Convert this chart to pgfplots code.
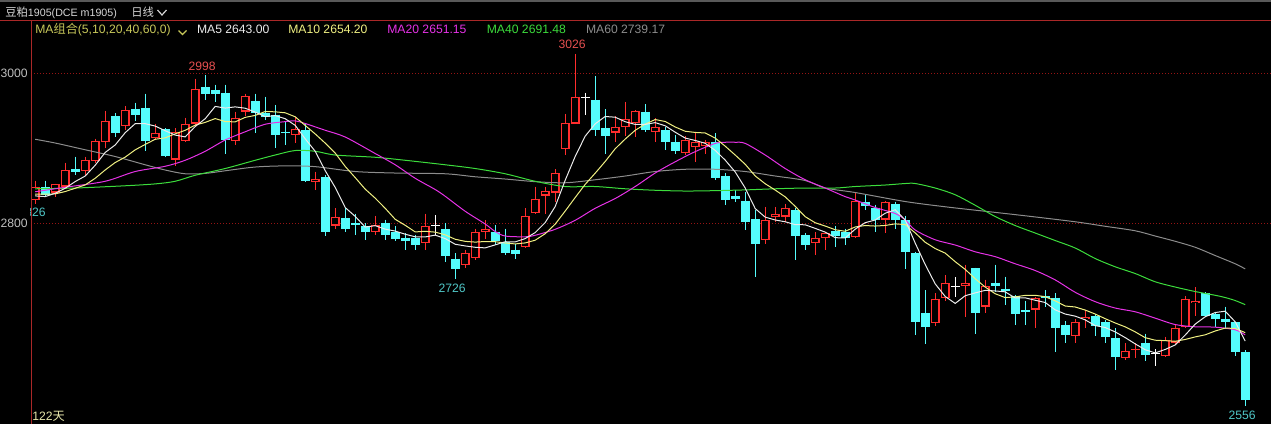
\documentclass[border=0pt]{standalone}
\usepackage{pgfplots}
\pgfplotsset{compat=1.18}
\usepackage{pgfplotstable}
\usepackage{fontspec}
\setmainfont{Liberation Sans}
\newfontfamily\cjk{Noto Sans CJK SC}
\newcommand\fs{\fontsize{7.3pt}{8pt}\selectfont}

\definecolor{candlered}{RGB}{255,45,45}
\definecolor{dncyan}{RGB}{84,252,252}
\definecolor{axisred}{RGB}{170,40,40}
\definecolor{gridred}{RGB}{150,20,20}
\definecolor{headgray}{RGB}{215,215,215}
\definecolor{ticgray}{RGB}{190,190,190}
\definecolor{macombo}{RGB}{200,200,90}
\definecolor{mafive}{RGB}{235,235,235}
\definecolor{maten}{RGB}{240,240,130}
\definecolor{matwenty}{RGB}{230,50,230}
\definecolor{maforty}{RGB}{60,220,60}
\definecolor{masixty}{RGB}{140,140,140}
\definecolor{lblred}{RGB}{230,80,80}
\definecolor{lblcyan}{RGB}{80,200,200}
\definecolor{daysyel}{RGB}{230,230,170}

% one error bar per row, drawn in colour #1 with width #2
\pgfplotsset{
  bodybar/.style n args={2}{color=#1, only marks, mark=*, mark size=0pt,
    mark options={draw=none, fill=none}, forget plot,
    error bars/.cd, y dir=minus, y explicit, error mark=none,
    error bar style={draw=#1, line width=#2, solid}},
}

% candles: index, open, high, low, close
\pgfplotstableread{
i o h l c
1 2831 2857 2826 2848
3 2841 2853 2835 2852
4 2849 2881 2847 2871
6 2870 2889 2865 2885
7 2883 2913 2880 2910
8 2908 2950 2901 2937
10 2930 2956 2925 2951
13 2914 2933 2911 2921
15 2885 2927 2877 2922
16 2910 2941 2909 2933
17 2933 2993 2929 2979
21 2910 2949 2905 2941
22 2949 2973 2943 2970
27 2918 2942 2907 2926
29 2855 2869 2845 2859
31 2797 2820 2793 2808
35 2788 2810 2785 2798
40 2774 2813 2765 2797
44 2744 2765 2740 2760
45 2754 2793 2751 2788
46 2788 2804 2779 2793
50 2768 2820 2767 2810
51 2814 2849 2813 2833
52 2837 2849 2813 2843
53 2841 2872 2829 2867
54 2899 2946 2891 2934
55 2933 3026 2933 2969
59 2921 2943 2908 2929
60 2928 2962 2916 2939
61 2934 2951 2915 2950
63 2922 2940 2909 2928
66 2894 2916 2891 2911
67 2902 2921 2882 2909
68 2903 2911 2893 2909
74 2778 2822 2773 2804
75 2808 2822 2802 2812
76 2809 2826 2802 2820
79 2774 2788 2758 2780
80 2780 2789 2764 2787
83 2782 2840 2780 2830
86 2805 2830 2787 2828
91 2667 2707 2663 2699
92 2700 2731 2697 2720
94 2716 2745 2675 2720
96 2689 2725 2680 2716
101 2685 2702 2660 2700
105 2650 2672 2640 2668
106 2672 2684 2660 2675
110 2620 2640 2618 2630
111 2631 2640 2620 2633
114 2623 2649 2622 2645
115 2641 2666 2639 2660
116 2662 2703 2660 2699
117 2694 2715 2677 2697
}\upc

\pgfplotstableread{
i o h l c
2 2848 2857 2835 2838
5 2873 2889 2865 2869
9 2943 2947 2915 2921
11 2953 2961 2936 2945
12 2954 2973 2897 2910
14 2926 2927 2889 2890
18 2982 2998 2965 2973
19 2978 2985 2962 2972
20 2974 2985 2893 2911
23 2963 2973 2920 2947
24 2947 2969 2938 2942
25 2945 2958 2900 2918
26 2922 2936 2905 2920
28 2924 2933 2855 2857
30 2862 2865 2783 2789
32 2807 2820 2789 2792
33 2801 2813 2785 2798
34 2796 2800 2778 2788
36 2800 2805 2778 2785
37 2788 2796 2776 2779
38 2781 2787 2764 2777
39 2781 2785 2765 2771
42 2792 2800 2749 2756
43 2753 2760 2726 2739
47 2789 2798 2771 2776
48 2775 2793 2758 2760
49 2765 2772 2753 2759
57 2965 2996 2916 2925
58 2927 2952 2893 2916
62 2949 2959 2922 2925
64 2925 2928 2898 2908
65 2909 2918 2893 2896
69 2909 2920 2858 2861
70 2863 2867 2824 2831
71 2836 2844 2829 2832
72 2830 2842 2791 2802
73 2806 2818 2729 2772
77 2818 2820 2751 2783
78 2784 2787 2764 2771
81 2790 2796 2769 2783
82 2789 2793 2771 2781
84 2829 2839 2818 2823
85 2821 2825 2789 2805
87 2826 2829 2792 2804
88 2804 2810 2739 2762
89 2760 2762 2651 2669
90 2680 2711 2639 2662
95 2740 2741 2653 2681
97 2721 2745 2709 2716
98 2713 2729 2691 2710
99 2703 2705 2665 2679
100 2684 2697 2665 2682
102 2703 2711 2689 2701
103 2701 2707 2629 2661
104 2665 2670 2640 2651
107 2677 2679 2650 2663
108 2669 2671 2640 2648
109 2647 2660 2604 2622
112 2640 2653 2616 2624
118 2707 2708 2675 2676
119 2679 2682 2662 2673
120 2673 2689 2659 2669
121 2668 2669 2623 2628
122 2628 2631 2556 2565
}\dnc

\pgfplotstableread{
i o h l c
41 2797 2811 2785 2797
56 2968 2974 2944 2968
93 2716 2728 2702 2716
113 2627 2632 2610 2627
}\doji

\begin{document}
\begin{tikzpicture}
\begin{scope}[x=0.6pt, y=-0.6pt, shift={(0pt,254.4pt)}]
  \fill[black] (0,0) rectangle (1271,424);
  \fill[black!65] (0,0) rectangle (1271,1.6);
\end{scope}

\begin{axis}[
  at={(18.6pt,0pt)}, anchor=south west,
  scale only axis, width=744pt, height=241.8pt,
  xmin=0.58, xmax=124.58, ymin=2532.4, ymax=3069.7,
  axis line style={draw=none},
  xtick=\empty, ytick={2800,3000}, yticklabels={},
  major tick length=0pt,
  ymajorgrids, grid style={gridred, line width=0.6pt, dash pattern=on 0.6pt off 1.2pt},
]
% wicks
\addplot[bodybar={candlered}{0.7pt}] table[x=i, y=h, y error minus expr=\thisrow{h}-\thisrow{l}] {\upc};
\addplot[bodybar={dncyan}{0.6pt}] table[x=i, y=h, y error minus expr=\thisrow{h}-\thisrow{l}] {\dnc};
\addplot[bodybar={white}{0.6pt}] table[x=i, y=h, y error minus expr=\thisrow{h}-\thisrow{l}] {\doji};
% bodies (up candles hollow)
\addplot[bodybar={candlered}{5.2pt}] table[x=i, y=c, y error minus expr=\thisrow{c}-\thisrow{o}] {\upc};
\addplot[bodybar={black}{3.8pt}] table[x=i, y expr=\thisrow{c}-1.4, y error minus expr={max(\thisrow{c}-\thisrow{o}-2.8,0)}] {\upc};
\addplot[bodybar={dncyan}{5.2pt}] table[x=i, y=o, y error minus expr=\thisrow{o}-\thisrow{c}] {\dnc};
\addplot[bodybar={white}{5.2pt}] table[x=i, y expr=\thisrow{o}+0.667, y error minus expr=1.333] {\doji};

% MA60
\addplot[masixty, line width=0.6pt, smooth] coordinates {
(1,2912) (3,2907) (6,2898) (9,2889) (12,2878) (14,2871) (16,2866) (18,2866.5) (20,2870) (23,2875)
(26,2876.5) (29,2875.5) (33,2869) (37,2867) (42,2866) (45,2862) (48,2859) (51,2855.5) (54,2854)
(57,2858) (60,2863) (63,2869) (66,2872) (69,2872) (72,2869) (75,2863) (78,2857) (80,2847) (83,2841)
(88,2829) (92,2822) (96,2816) (100,2810) (105,2802) (108,2796) (111,2790) (113,2783) (115,2776)
(117,2768) (119,2757) (121,2746) (122,2739.2)};
% MA40
\addplot[maforty, line width=0.6pt, smooth] coordinates {
(1,2846) (5,2847) (10,2850) (13,2852.5) (15,2856) (17,2864) (20,2873) (23,2884) (25,2891) (27,2897)
(29,2896) (31,2891) (35,2888) (38,2884) (42,2878) (45,2873) (48,2866) (51,2856) (54,2849) (57,2849)
(60,2846) (63,2844) (66,2843) (69,2843.5) (72,2844.5) (75,2846) (78,2847) (81,2847) (83,2849) (86,2851)
(88,2853) (89,2853) (91,2847) (93,2838) (95,2824) (97,2809) (99,2797) (101,2787) (103,2777) (105,2767)
(107,2753) (109,2742) (111,2733) (113,2722) (115,2715) (117,2709) (119,2704) (120,2701) (121,2697)
(122,2691.5)};
% MA20
\addplot[matwenty, line width=0.6pt, smooth] coordinates {
(1,2842) (4,2848) (8,2856) (11,2869) (14,2876) (16,2884) (18,2896) (20,2911) (22,2922) (24,2932)
(26,2935.5) (27,2936.5) (28,2933) (30,2924) (32,2915) (35,2893) (37,2878) (39,2860) (41,2845) (42,2836)
(44,2816) (46,2799) (47,2789) (48,2783) (50,2782) (51,2784) (53,2792) (55,2804) (57,2820) (59,2833)
(61,2849) (63,2867) (65,2882) (67,2895.5) (69,2906.5) (70,2908) (71,2908) (72,2906.5) (74,2891) (76,2873)
(78,2858) (80,2847) (82,2835.5) (83,2831) (85,2821) (87,2813) (88,2804.5) (89,2791) (91,2778) (93,2771)
(95,2762) (97,2755.5) (99,2746) (101,2737) (103,2724.5) (105,2708) (107,2695.5) (109,2687) (111,2682)
(113,2673.5) (115,2665) (117,2662) (119,2661.5) (121,2658) (122,2651.2)};
% MA10
\addplot[maten, line width=0.6pt] coordinates {
(1,2839) (2,2838.7) (3,2839.2) (4,2842.3) (5,2846.7) (6,2851.1) (7,2860) (8,2871.1) (9,2881)
(10,2888.2) (11,2897.9) (12,2905.1) (13,2912.0) (14,2913.9) (15,2919.2) (16,2924.0) (17,2930.9)
(18,2934.5) (19,2939.6) (20,2935.6) (21,2935.2) (22,2941.2) (23,2943.8) (24,2949.0) (25,2948.6)
(26,2947.3) (27,2942.0) (28,2930.4) (29,2919.1) (30,2906.9) (31,2893.6) (32,2875.8) (33,2860.9)
(34,2845.5) (35,2833.5) (36,2820.0) (37,2805.3) (38,2797.3) (39,2788.5) (40,2789.3) (41,2788.2)
(42,2784.6) (43,2778.7) (44,2775.9) (45,2774.9) (46,2775.7) (47,2775.4) (48,2773.7) (49,2772.5)
(50,2773.8) (51,2777.4) (52,2786.1) (53,2798.9) (54,2816.3) (55,2834.4) (56,2851.9) (57,2866.8)
(58,2882.4) (59,2899.4) (60,2912.3) (61,2924.0) (62,2932.2) (63,2938.3) (64,2935.7) (65,2928.4)
(66,2922.7) (67,2921.1) (68,2920.4) (69,2913.6) (70,2902.8) (71,2891.0) (72,2878.7) (73,2863.1)
(74,2852.7) (75,2844.3) (76,2835.2) (77,2822.6) (78,2808.8) (79,2800.7) (80,2796.3) (81,2791.4)
(82,2789.3) (83,2795.1) (84,2797.0) (85,2796.3) (86,2797.1) (87,2799.2) (88,2798.3) (89,2787.2)
(90,2774.7) (91,2766.3) (92,2760.2) (93,2748.8) (94,2738.5) (95,2726.1) (96,2714.9) (97,2706.1)
(98,2700.9) (99,2701.9) (100,2703.9) (101,2704.0) (102,2702.1) (103,2696.6) (104,2689.7) (105,2688.4)
(106,2684.3) (107,2679.0) (108,2672.8) (109,2667.1) (110,2661.9) (111,2655.2) (112,2647.5) (113,2644.1)
(114,2643.5) (115,2642.7) (116,2645.1) (117,2648.5) (118,2651.3) (119,2656.4) (120,2660.3) (121,2659.8)
(122,2654.2)};
% MA5
\addplot[mafive, line width=0.6pt] coordinates {
(1,2836.5) (2,2835.6) (3,2840) (4,2846.7) (5,2855.6) (6,2863.0) (7,2877.4) (8,2894.4) (9,2904.4)
(10,2920.8) (11,2932.8) (12,2932.8) (13,2929.6) (14,2923.4) (15,2917.6) (16,2915.2) (17,2929.0)
(18,2939.4) (19,2955.8) (20,2953.6) (21,2955.2) (22,2953.4) (23,2948.2) (24,2942.2) (25,2943.6)
(26,2939.4) (27,2930.6) (28,2912.6) (29,2896.0) (30,2870.2) (31,2847.8) (32,2821.0) (33,2809.2)
(34,2795.0) (35,2796.8) (36,2792.2) (37,2789.6) (38,2785.4) (39,2782.0) (40,2781.8) (41,2784.2)
(42,2779.6) (43,2772.0) (44,2769.8) (45,2768.0) (46,2767.2) (47,2771.2) (48,2775.4) (49,2775.2)
(50,2779.6) (51,2787.6) (52,2801.0) (53,2822.4) (54,2857.4) (55,2889.2) (56,2916.2) (57,2932.6)
(58,2942.4) (59,2941.4) (60,2935.4) (61,2931.8) (62,2931.8) (63,2934.2) (64,2930.0) (65,2921.4)
(66,2913.6) (67,2910.4) (68,2906.6) (69,2897.2) (70,2884.2) (71,2868.4) (72,2847.0) (73,2819.6)
(74,2808.2) (75,2804.4) (76,2802.0) (77,2798.2) (78,2798.0) (79,2793.2) (80,2788.2) (81,2780.8)
(82,2780.4) (83,2792.2) (84,2800.8) (85,2804.4) (86,2813.4) (87,2818.0) (88,2804.4) (89,2773.6)
(90,2745.0) (91,2719.2) (92,2702.4) (93,2693.2) (94,2703.4) (95,2707.2) (96,2710.6) (97,2709.8)
(98,2708.6) (99,2700.4) (100,2700.6) (101,2697.4) (102,2694.4) (103,2684.6) (104,2679.0) (105,2676.2)
(106,2671.2) (107,2663.6) (108,2661.0) (109,2655.2) (110,2647.6) (111,2639.2) (112,2631.4) (113,2627.2)
(114,2631.8) (115,2637.8) (116,2651.0) (117,2665.6) (118,2675.4) (119,2681.0) (120,2682.8) (121,2668.6)
(122,2643.0)};

% high / low labels
\node[anchor=base, inner sep=0pt, text=lblred, font=\fs, xshift=-1.8pt, yshift=2.4pt] at (axis cs:18,2998) {2998};
\node[anchor=base, inner sep=0pt, text=lblred, font=\fs, xshift=-1.8pt, yshift=3.0pt] at (axis cs:55,3026) {3026};
\node[anchor=north, inner sep=0pt, text=lblcyan, font=\fs, xshift=-1.8pt, yshift=-2.8pt] at (axis cs:43,2726) {2726};
\node[anchor=north, inner sep=0pt, text=lblcyan, font=\fs, xshift=-1.8pt, yshift=-2.6pt] at (axis cs:122,2556) {2556};
\node[anchor=north, inner sep=0pt, text=lblcyan, font=\fs, xshift=-1.8pt, yshift=-2.6pt] at (axis cs:1,2826) {2826};
\end{axis}

\begin{scope}[x=0.6pt, y=-0.6pt, shift={(0pt,254.4pt)}]
  \draw[axisred, line width=0.6pt] (0,21) -- (1271,21);
  \draw[axisred, line width=0.6pt] (31,21) -- (31,424);
  % header
  \node[anchor=base west, inner sep=0pt, text=headgray] at (5,17)
    {{\fontsize{6.8pt}{8pt}\selectfont\cjk 豆粕}{\fontsize{6.4pt}{8pt}\selectfont 1905(DCE m1905)}};
  \node[anchor=base west, inner sep=0pt, text=headgray, font=\fontsize{6.8pt}{8pt}\selectfont] at (131,17) {{\cjk 日线}};
  \draw[headgray, line width=0.7pt] (157.5,10) -- (162,15) -- (166.5,10);
  % MA legend line
  \node[anchor=base west, inner sep=0pt, text=macombo, font=\fs] at (35,34) {MA{\cjk 组合}(5,10,20,40,60,0)};
  \draw[macombo, line width=0.7pt] (178.5,30.5) -- (182.5,34.5) -- (186.5,30.5);
  \node[anchor=base west, inner sep=0pt, text=mafive, font=\fs] at (196.7,34) {MA5 2643.00};
  \node[anchor=base west, inner sep=0pt, text=maten, font=\fs] at (288,34) {MA10 2654.20};
  \node[anchor=base west, inner sep=0pt, text=matwenty, font=\fs] at (387,34) {MA20 2651.15};
  \node[anchor=base west, inner sep=0pt, text=maforty, font=\fs] at (486.5,34) {MA40 2691.48};
  \node[anchor=base west, inner sep=0pt, text=masixty, font=\fs] at (585.7,34) {MA60 2739.17};
  % y tick labels
  \node[anchor=base east, inner sep=0pt, text=ticgray, font=\fs] at (28,77.5) {3000};
  \node[anchor=base east, inner sep=0pt, text=ticgray, font=\fs] at (28,227.5) {2800};
  % day count
  \node[anchor=base west, inner sep=0pt, text=daysyel, font=\fs] at (32,420) {122{\cjk 天}};
\end{scope}
\pgfresetboundingbox
\useasboundingbox (0,0) rectangle (762.6pt,254.4pt);
\end{tikzpicture}
\end{document}
